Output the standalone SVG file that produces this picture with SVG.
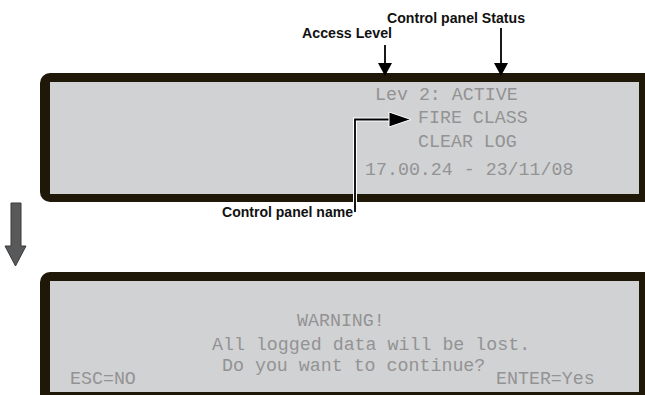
<svg xmlns="http://www.w3.org/2000/svg" width="645" height="395" viewBox="0 0 645 395">
<style>
.frame{fill:#1f1707}
.screen{fill:#d1d2d4}
.lcd{font-family:"Liberation Mono","DejaVu Sans Mono",monospace;font-size:18.3px;fill:#939393}
.lbl{font-family:"Liberation Sans",Arial,sans-serif;font-weight:bold;font-size:14px;fill:#111}
.ln{stroke:#000;stroke-width:1.8;fill:none}
.halo{stroke:#fff;stroke-width:4;fill:none}
</style>
<rect width="645" height="395" fill="#fff"/>
<g id="panel1">
<rect class="frame" x="40" y="73" width="615" height="129" rx="10"/>
<rect class="screen" x="50" y="82" width="589" height="112"/>
<text class="lcd" x="375" y="100">Lev 2: ACTIVE</text>
<text class="lcd" x="418" y="123">FIRE CLASS</text>
<text class="lcd" x="418" y="147">CLEAR LOG</text>
<text class="lcd" x="365" y="175">17.00.24 - 23/11/08</text>
</g>
<g id="panel2">
<rect class="frame" x="40" y="272" width="615" height="140" rx="10"/>
<rect class="screen" x="50" y="281" width="589" height="111"/>
<text class="lcd" x="297" y="326">WARNING!</text>
<text class="lcd" x="212" y="350">All logged data will be lost.</text>
<text class="lcd" x="222" y="371">Do you want to continue?</text>
<text class="lcd" x="70" y="384">ESC=NO</text>
<text class="lcd" x="496" y="384">ENTER=Yes</text>
</g>
<g id="labels">
<text class="lbl" x="302" y="38" textLength="90" lengthAdjust="spacingAndGlyphs">Access Level</text>
<text class="lbl" x="387" y="23" textLength="138" lengthAdjust="spacingAndGlyphs">Control panel Status</text>
<text class="lbl" x="222" y="217" textLength="131" lengthAdjust="spacingAndGlyphs">Control panel name</text>
</g>
<g id="connectors">
<line class="ln" x1="385" y1="45" x2="385" y2="64"/>
<polygon points="378,63 392,63 385,76" fill="#000"/>
<line class="ln" x1="501" y1="28" x2="501" y2="64"/>
<polygon points="494,63 508,63 501,76" fill="#000"/>
<polyline class="halo" points="355,212 355,119.5 392,119.5"/>
<polyline class="ln" points="355,212 355,119.5 392,119.5"/>
<polygon points="389,112 411,119.5 389,127" fill="#000" stroke="#fff" stroke-width="1"/>
<polygon points="11,203 21,203 21,246 26,246 15.5,266 5,246 11,246" fill="#58595b" stroke="#3a3a3a" stroke-width="1"/>
</g>
</svg>
